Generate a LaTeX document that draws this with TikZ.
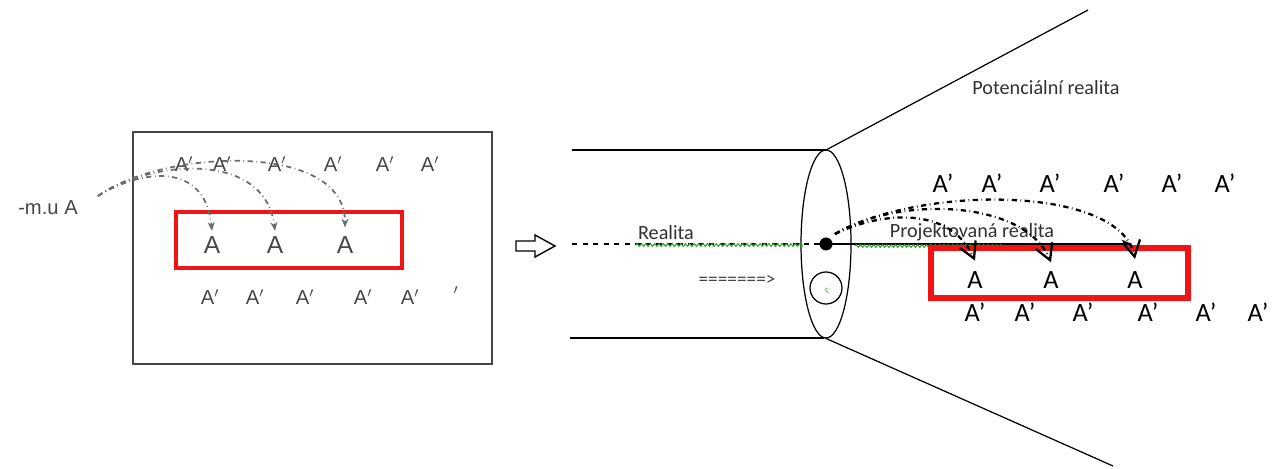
\documentclass[tikz,border=0pt]{standalone}
\usepackage{fontspec}
\setmainfont{Carlito}
\newfontfamily\arialfont{Liberation Sans}
\usetikzlibrary{arrows.meta,decorations.pathmorphing}

\definecolor{boxred}{RGB}{240,20,20}
\definecolor{inkgray}{RGB}{70,70,70}
\definecolor{spellgreen}{RGB}{50,160,50}

\tikzset{
  pxpic/.style={x=0.02cm,y=-0.02cm},
  aprime/.style={font=\fontsize{15}{15}\selectfont, inner sep=0pt},
  aleft/.style={font=\arialfont\fontsize{11.5}{12}\selectfont, text=inkgray, inner sep=0pt},
  redbox/.style={draw=boxred, line width=2.3pt},
  leftjump/.style={draw=inkgray!80, dash dot, line width=1pt, -{Stealth[length=5pt,width=4pt]}},
  rightjump/.style={draw=black, dash dot, line width=1.3pt, -{Straight Barb[length=9pt,width=10pt,line width=1.3pt]}},
  wavy/.style={draw=spellgreen, line width=0.6pt, decorate, decoration={zigzag, segment length=2.5pt, amplitude=0.8pt}}
}

\begin{document}
\begin{tikzpicture}[pxpic]
        \useasboundingbox (0,0) rectangle (1285,469);
        % left panel
        \draw[inkgray, line width=1pt] (133,132) rectangle (492,364);
        \draw[redbox] (176,212) rectangle (402,268);
        \node[aleft] (mua) at (48,208) {-m.u A};
        \foreach \x [count=\i] in {184,222,277,333,385,430}
          \node[aleft] (lt\i) at (\x,164) {A$'$};
        \foreach \x [count=\i] in {212,275,345}
          \node[aleft, font=\arialfont\fontsize{14}{14}\selectfont] (la\i) at (\x,245) {A};
        \foreach \x [count=\i] in {210,255,305,363,410}
          \node[aleft] (lb\i) at (\x,297) {A$'$};
        \node[aleft] (lb6) at (456,294) {$'$};
        \coordinate (lstart) at (98,196);
        \draw[leftjump] (lstart) .. controls (140,170) and (205,160) .. ([yshift=3pt]la1.north);
        \draw[leftjump] (lstart) .. controls (150,160) and (265,150) .. ([yshift=3pt]la2.north);
        \draw[leftjump] (lstart) .. controls (160,150) and (345,140) .. ([yshift=5pt]la3.north);

        % hollow arrow
        \draw[line width=0.8pt] (516,241) -- (535,241) -- (535,235) -- (555,246) -- (535,257) -- (535,251) -- (516,251) -- cycle;

        % tube and cone
        \draw[line width=0.7pt] (572,150) -- (826,150);
        \draw[line width=0.7pt] (570,338) -- (824,338);
        \draw[line width=0.7pt] (826,244) ellipse (25 and 94);
        \draw[line width=0.7pt] (826,150) -- (1088,10);
        \draw[line width=0.7pt] (825,338) -- (1113,466);
        \draw[line width=0.7pt] (826,288) circle (16);
        \node[text=spellgreen, font=\fontsize{5}{5}\selectfont] (sig) at (827,291) {ς};

        \node[text=inkgray!70!black, font=\fontsize{11.5}{12}\selectfont] (potreal) at (1046,88) {Potenciální realita};
        \node[text=inkgray!70!black, font=\fontsize{11.5}{12}\selectfont] (real) at (666,233) {Realita};
        \node[text=inkgray!70!black, font=\fontsize{11.5}{12}\selectfont] (projreal) at (972,232) {Projektovaná realita};
        \node[text=inkgray, font=\fontsize{11}{11}\selectfont, inner sep=0pt] (eqarrow) at (737,280) {=======>};

        % realita line
        \fill (826,244) circle (6.5) coordinate (dot);
        \draw[dashed, line width=0.7pt] (572,244) -- (dot);
        \draw[line width=0.8pt, -{Stealth[length=6pt,width=5pt]}] (dot) -- (1132,244);
        \draw[wavy] (636,245) -- (803,245);
        \draw[wavy] (855,246) -- (1005,246);

        % right group
        \draw[redbox, line width=3pt] (931,248) rectangle (1188,298);
        \foreach \x [count=\i] in {943,992,1050,1114,1172,1225}
          \node[aprime] (rt\i) at (\x,183) {A’};
        \foreach \x [count=\i] in {975,1051,1135}
          \node[aprime] (ra\i) at (\x,280) {A};
        \foreach \x [count=\i] in {975,1025,1083,1148,1206,1258}
          \node[aprime] (rb\i) at (\x,312) {A’};
        \coordinate (rstart) at (835,234);
        \draw[rightjump] (rstart) .. controls (880,212) and (950,205) .. ([yshift=6pt]ra1.north);
        \draw[rightjump] (rstart) .. controls (900,195) and (1025,200) .. ([yshift=5pt]ra2.north);
        \draw[rightjump] (rstart) .. controls (920,185) and (1120,185) .. ([yshift=7pt]ra3.north);
\end{tikzpicture}
\end{document}
